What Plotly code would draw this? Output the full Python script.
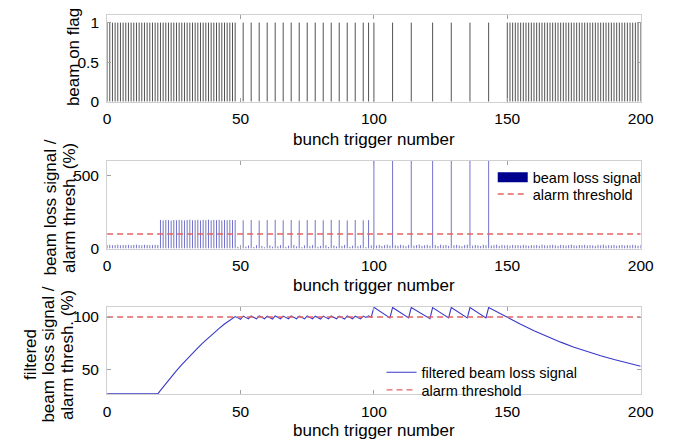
import plotly.graph_objects as go

# ---------------- data ----------------
beam_on_triggers = [
    0, 1, 2, 3, 4, 5, 6, 7, 8, 9, 10, 11, 12, 13, 14, 15, 16, 17, 18, 19,
    20, 21, 22, 23, 24, 25, 26, 27, 28, 29, 30, 31, 32, 33, 34, 35, 36, 37, 38, 39,
    40, 41, 42, 43, 44, 45, 46, 47, 48,
    51, 54, 57, 60, 63, 66, 69, 72, 75, 78, 81, 84, 87, 90, 93, 96, 98,
    100, 107, 114, 122, 129, 136, 143,
    150, 151, 152, 153, 154, 155, 156, 157, 158, 159, 160, 161, 162, 163, 164, 165,
    166, 167, 168, 169, 170, 171, 172, 173, 174, 175, 176, 177, 178, 179, 180, 181,
    182, 183, 184, 185, 186, 187, 188, 189, 190, 191, 192, 193, 194, 195, 196, 197,
    198, 199, 200,
]
beam_on_flag = [1] * len(beam_on_triggers)

triggers = list(range(201))
beam_loss_signal = [
    24, 26, 23, 25, 27, 22, 25, 24, 26, 23,          # 0-9
    25, 27, 24, 22, 26, 25, 23, 24, 26, 25,          # 10-19
    196, 193, 197, 195, 192, 196, 194, 197, 195, 193,  # 20-29
    196, 198, 194, 195, 197, 193, 196, 195, 198, 194,  # 30-39
    196, 195, 197, 193, 196, 194, 197, 195, 196, 12,   # 40-49
    18, 194, 14, 21, 196, 11, 23, 193, 18, 9,          # 50-59
    195, 22, 13, 197, 16, 24, 194, 12, 20, 196,        # 60-69
    25, 15, 193, 10, 22, 195, 17, 24, 196, 13,         # 70-79
    19, 194, 23, 11, 197, 21, 14, 195, 18, 25,         # 80-89
    193, 12, 20, 196, 16, 23, 194, 10, 195, 22,        # 90-99
    650, 21, 25, 18, 24, 27, 20, 650, 23, 19,          # 100-109
    26, 22, 17, 25, 650, 21, 24, 28, 19, 23,           # 110-119
    26, 20, 650, 24, 18, 27, 22, 25, 19, 650,          # 120-129
    23, 26, 21, 17, 24, 27, 650, 20, 25, 22,           # 130-139
    18, 26, 23, 650, 21, 24, 27, 19, 25, 22,           # 140-149
    23, 20, 25, 22, 24, 21, 26, 23, 19, 24,           # 150-159
    22, 25, 20, 27, 23, 21, 24, 26, 22, 19,           # 160-169
    25, 23, 21, 24, 27, 22, 20, 25, 23, 26,           # 170-179
    21, 24, 22, 19, 25, 23, 27, 21, 24, 22,           # 180-189
    26, 20, 23, 25, 21, 24, 22, 26, 23, 20, 24,       # 190-200
]

filtered_x = [
    0, 19, 20, 22, 24, 26, 28, 30, 32, 34, 36, 38, 40, 42, 44, 46, 48,
    49, 50, 51, 52, 53, 54, 55, 56, 57, 58, 59, 60, 61, 62, 63, 64, 65, 66, 67, 68,
    69, 70, 71, 72, 73, 74, 75, 76, 77, 78, 79, 80, 81, 82, 83, 84, 85, 86, 87, 88,
    89, 90, 91, 92, 93, 94, 95, 96, 97, 98, 99,
    100, 106, 107, 113, 114, 121, 122, 128, 129, 135, 136, 142, 143,
    146, 150, 155, 160, 165, 170, 175, 180, 185, 190, 195, 200,
]
filtered_y = [
    26.5, 26.5, 29.9, 36.4, 42.7, 48.7, 54.5, 60.1, 65.4, 70.5, 75.5, 80.2, 84.8,
    89.1, 93.3, 97.2, 100.5,
    99.2, 97.9, 100.9, 99.5, 98.2, 101.0, 99.6, 98.3, 101.1, 99.7, 98.4, 100.8,
    99.5, 98.1, 101.0, 99.6, 98.3, 100.9, 99.5, 98.2, 101.1, 99.7, 98.4, 100.9,
    99.6, 98.3, 101.0, 99.6, 98.2, 100.8, 99.4, 98.1, 100.9, 99.5, 98.2, 101.0,
    99.7, 98.4, 100.9, 99.5, 98.1, 101.0, 99.6, 98.3, 100.8, 99.5, 98.2, 100.9,
    99.6, 101.2, 99.9,
    109.3, 99.2, 109.2, 99.1, 109.1, 98.4, 109.0, 99.1, 109.1, 99.1, 109.1, 99.1, 109.1,
    105.0, 100.0, 93.1, 86.9, 81.2, 76.0, 71.2, 66.9, 63.0, 59.4, 56.1, 53.0,
]

threshold_x = [0, 200]
threshold_y = [100, 100]

x_ticks = [0, 50, 100, 150, 200]
flag_ticks = [0, 0.5, 1]
loss_ticks = [0, 500]
filt_ticks = [50, 100]


def stems(xs, ys):
    """vertical stems from 0 up to each value, as one polyline with gaps"""
    sx, sy = [], []
    for xv, yv in zip(xs, ys):
        sx += [xv, xv, None]
        sy += [0, yv, None]
    return sx, sy


# ---------------- styling ----------------
FONT = "Liberation Sans, Arial, Helvetica, sans-serif"
BOX = "#d0d0d0"
TICKC = "#a0a0a0"
NAVY = "#00008f"
LINE_BLUE = "#3838c8"
RED = "#e06464"
DASH = "6px,4px"
W, H = 694, 446

fig = go.Figure()

fx, fy = stems(beam_on_triggers, beam_on_flag)
fig.add_trace(go.Scatter(x=fx, y=fy, mode="lines",
                         line=dict(color="rgba(40,40,40,0.8)", width=1),
                         showlegend=False, xaxis="x", yaxis="y"))

lx, ly = stems(triggers, beam_loss_signal)
fig.add_trace(go.Scatter(x=lx, y=ly, mode="lines",
                         line=dict(color="rgba(0,0,160,0.55)", width=1),
                         showlegend=False, xaxis="x2", yaxis="y2"))
# legend entries (middle panel)
fig.add_trace(go.Scatter(x=[None], y=[None], mode="lines",
                         line=dict(color=NAVY, width=12),
                         name="beam loss signal", legend="legend",
                         xaxis="x2", yaxis="y2"))
fig.add_trace(go.Scatter(x=threshold_x, y=threshold_y, mode="lines",
                         line=dict(color=RED, width=1.4, dash=DASH),
                         name="alarm threshold", legend="legend2",
                         xaxis="x2", yaxis="y2"))

fig.add_trace(go.Scatter(x=filtered_x, y=filtered_y, mode="lines",
                         line=dict(color=LINE_BLUE, width=1.1),
                         name="filtered beam loss signal", legend="legend3",
                         xaxis="x3", yaxis="y3"))
fig.add_trace(go.Scatter(x=threshold_x, y=threshold_y, mode="lines",
                         line=dict(color=RED, width=1.4, dash=DASH),
                         name="alarm threshold", legend="legend4",
                         xaxis="x3", yaxis="y3"))

xdom = [105.7 / W, 652.7 / W]


def ydom(top, bot):
    return [1 - bot / H, 1 - top / H]


def xax(anchor):
    return dict(domain=xdom, range=[0, 200], tickvals=x_ticks, anchor=anchor,
                showline=True, linecolor=BOX, linewidth=1, mirror="ticks",
                ticks="inside", ticklen=4, tickcolor=TICKC, showgrid=False,
                zeroline=False, ticklabelstandoff=3,
                tickfont=dict(size=15.5, color="black", family=FONT))


def yax(anchor, dom, rng, tv):
    return dict(domain=dom, range=rng, tickvals=tv, anchor=anchor,
                showline=True, linecolor=BOX, linewidth=1, mirror="ticks",
                ticks="inside", ticklen=4, tickcolor=TICKC, showgrid=False,
                zeroline=False, ticklabelstandoff=4,
                tickfont=dict(size=15.5, color="black", family=FONT))


annotations = []
xc = (105.7 + 652.7) / 2 / W
for yc in [141, 290, 438]:
    annotations.append(dict(text="bunch trigger number", x=xc, y=1 - yc / H,
                            xref="paper", yref="paper", showarrow=False,
                            xanchor="center", yanchor="middle",
                            font=dict(size=17, color="black", family=FONT)))

ylabel_lines = [
    ("beam on flag", 72, 57),
    ("beam loss signal /", 48, 211),
    ("alarm thresh. (%)", 67, 211),
    ("filtered", 27, 361),
    ("beam loss signal /", 46, 361),
    ("alarm thresh. (%)", 65, 361),
]
for txt, xcen, ycen in ylabel_lines:
    annotations.append(dict(text=txt, x=xcen / W, y=1 - ycen / H, textangle=-90,
                            xref="paper", yref="paper", showarrow=False,
                            xanchor="center", yanchor="middle",
                            font=dict(size=17, color="black", family=FONT)))


def leg(xpx, ypx):
    return dict(x=xpx / W, y=1 - ypx / H, xanchor="left", yanchor="middle",
                bgcolor="rgba(255,255,255,0)", borderwidth=0,
                font=dict(size=14.5, color="black", family=FONT),
                itemwidth=30)


fig.update_layout(
    width=W, height=H, margin=dict(l=0, r=0, t=0, b=0),
    paper_bgcolor="white", plot_bgcolor="white",
    font=dict(family=FONT, color="black"),
    xaxis=xax("y"), yaxis=yax("x", ydom(14, 102.7), [0, 1.1], flag_ticks),
    xaxis2=xax("y2"), yaxis2=yax("x2", ydom(163.3, 252.7), [0, 600], loss_ticks),
    xaxis3=xax("y3"), yaxis3=yax("x3", ydom(312.3, 401), [26.5, 109.6], filt_ticks),
    legend=leg(501, 180),
    legend2=leg(501, 197),
    legend3=leg(387, 379),
    legend4=leg(387, 397),
    annotations=annotations,
)

fig.write_html("out.html")
